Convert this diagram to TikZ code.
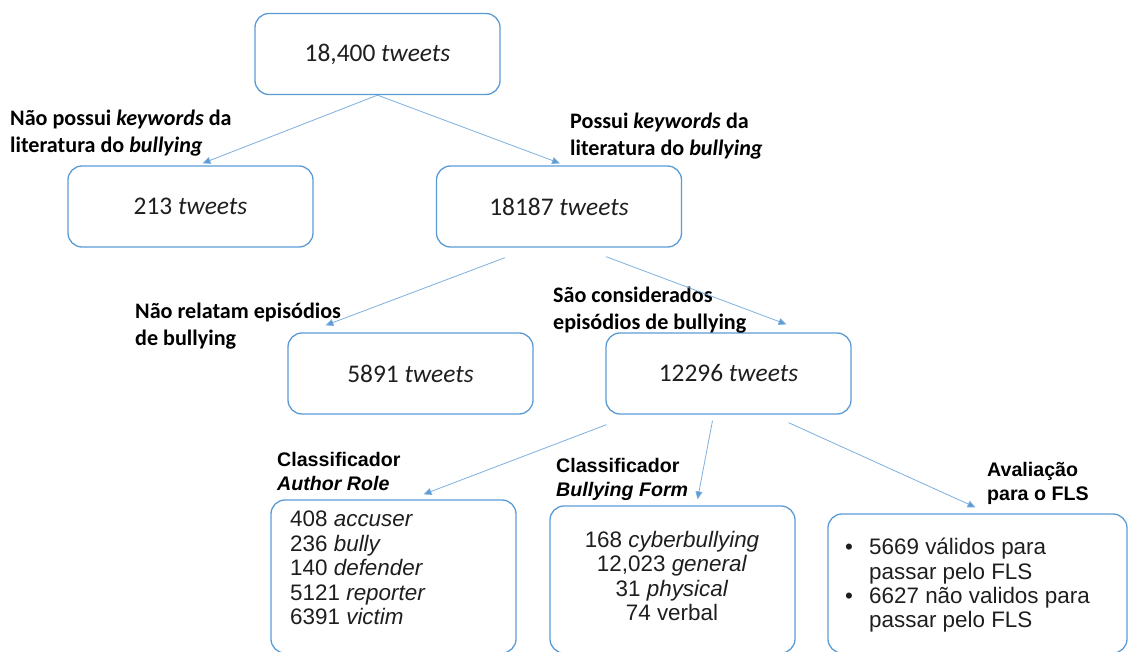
\documentclass[tikz,border=0pt]{standalone}
\usepackage{fontspec}
\setmainfont{Carlito}
\newfontfamily\arialf{Liberation Sans}
\usetikzlibrary{arrows.meta,calc}
\definecolor{boxblue}{HTML}{5B9BD5}
\definecolor{inkgray}{HTML}{1E1E1E}
\begin{document}
\begin{tikzpicture}[x=1bp,y=-1bp,
  box/.style={draw=boxblue,line width=1.3bp,rounded corners=14bp,minimum width=245bp,
    minimum height=81bp,inner sep=0pt,font=\fontsize{25.5}{30}\selectfont,text=inkgray},
  flow/.style={draw=boxblue!80,line width=0.8bp,-{Triangle[length=8bp,width=7bp,fill=boxblue]}},
  lab/.style={anchor=north west,inner sep=0pt,align=left,font=\fontsize{22.2}{27}\selectfont\bfseries},
  labsf/.style={anchor=north west,inner sep=0pt,align=left,font=\arialf\fontsize{19.7}{24}\selectfont\bfseries},
  list/.style={inner sep=0pt,font=\arialf\fontsize{22.5}{24.5}\selectfont,text=inkgray}]
\useasboundingbox (0,0) rectangle (1129,652);

% boxes
\node[box] (all) at (377.5,54) {18,400 \textit{tweets}};
\node[box] (n213) at (190.5,206.5) {213 \textit{tweets}};
\node[box] (n18187) at (559,206.5) {18187 \textit{tweets}};
\node[box] (n5891) at (410.5,373.5) {5891 \textit{tweets}};
\node[box] (n12296) at (728.5,373.5) {12296 \textit{tweets}};
\node[box,minimum height=153bp] (role) at (393.5,576.5) {};
\node[box,minimum height=147bp] (form) at (672.5,579.5) {};
\node[box,minimum width=299bp,minimum height=139bp] (fls) at (977.5,583.5) {};

% box contents
\node[list,anchor=north west,align=left] (roletext) at (290,511)
  {408 \textit{accuser}\\236 \textit{bully}\\140 \textit{defender}\\5121 \textit{reporter}\\6391 \textit{victim}};
\node[list,anchor=north,align=center] (formtext) at (672,531)
  {168 \textit{cyberbullying}\\12,023 \textit{general}\\31 \textit{physical}\\74 verbal};
\node[list,anchor=north west,align=left] (flstext) at (845,538)
  {\makebox[24bp][l]{•}5669 válidos para\\\makebox[24bp][l]{}passar pelo FLS\\
   \makebox[24bp][l]{•}6627 não validos para\\\makebox[24bp][l]{}passar pelo FLS};

% branch labels
\node[lab] (l1) at (10,110) {Não possui \textit{keywords} da\\literatura do \textit{bullying}};
\node[lab] (l2) at (570,113) {Possui \textit{keywords} da\\literatura do \textit{bullying}};
\node[lab] (l3) at (135,303) {Não relatam episódios\\de bullying};
\node[lab] (l4) at (553,287) {São considerados\\episódios de bullying};
\node[labsf] (l5) at (277,452) {Classificador\\\textit{Author Role}};
\node[labsf] (l6) at (556,458) {Classificador\\\textit{Bullying Form}};
\node[labsf] (l7) at (987,462) {Avaliação\\para o FLS};

% connectors
\draw[flow] (all.south) -- ([shift={(12,-2)}]n213.north);
\draw[flow] (all.south) -- ([shift={(1,-2)}]n18187.north);
\draw[flow] ([shift={(-54,10)}]n18187.south) -- ([shift={(-85,-7)}]n5891.north);
\draw[flow] ([shift={(47,9)}]n18187.south) -- ([shift={(58,-8)}]n12296.north);
\draw[flow] ([shift={(-122,10)}]n12296.south) -- ([shift={(30,-5)}]role.north);
\draw[flow] ([shift={(-16,6)}]n12296.south) -- ([shift={(25,-6)}]form.north);
\draw[flow] ([shift={(60,8)}]n12296.south) -- ([shift={(-2,-6)}]fls.north);
\end{tikzpicture}
\end{document}
